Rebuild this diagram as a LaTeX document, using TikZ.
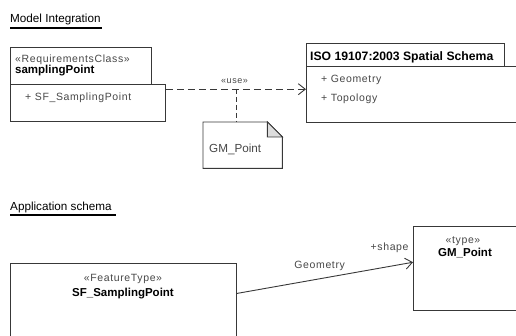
\documentclass[tikz,border=0pt]{standalone}
\usepackage{fontspec}
\setmainfont{Liberation Sans}
\newfontfamily\stfont[LetterSpace=6]{Liberation Sans}
\usetikzlibrary{arrows.meta, positioning}
\definecolor{umlln}{HTML}{383838}
\definecolor{umltx}{HTML}{474747}
\definecolor{umlfold}{HTML}{DDDDDD}

\begin{document}
\begin{tikzpicture}[x=1pt, y=-1pt,
  box/.style={draw=umlln, line width=0.9pt, inner sep=0pt, anchor=north west},
  txt/.style={inner sep=0pt, anchor=base west, text=umltx, font=\stfont\fontsize{10.5}{12}\selectfont},
  bname/.style={inner sep=0pt, anchor=base west, font=\bfseries\fontsize{11.5}{13}\selectfont},
  ttl/.style={inner sep=0pt, anchor=base west, font=\fontsize{11.7}{14}\selectfont},
  uline/.style={line width=1.8pt},
  dep/.style={draw=umlln, line width=0.9pt, dash pattern=on 7pt off 4pt, -{Straight Barb[length=7pt, width=11pt]}},
  assoc/.style={draw=umlln, line width=0.9pt, -{Straight Barb[length=7pt, width=11pt]}}]
\useasboundingbox (0,0) rectangle (516,336);
\clip (0,0) rectangle (516,336);

% model integration
\node[ttl] (tModel) at (10,23) {Model Integration};
\draw[uline] ([yshift=-5pt]tModel.base west) -- ([yshift=-5pt,xshift=1pt]tModel.base east);

\node[box, minimum width=141pt, minimum height=37pt] (spHead) at (10,47) {};
\node[box, minimum width=155pt, minimum height=37pt] (spBody) at (10,84) {};
\node[txt] (spSt) at (15,63) {«RequirementsClass»};
\node[bname] (spName) at (15,74) {samplingPoint};
\node[txt] (spAttr) at (25,101) {+ SF\_SamplingPoint};

\node[box, minimum width=198pt, minimum height=23pt] (isoHead) at (306,43) {};
\node[box, minimum width=230pt, minimum height=56pt] (isoBody) at (306,66) {};
\node[bname, font=\bfseries\fontsize{12.2}{14}\selectfont] (isoName) at (310,61) {ISO 19107:2003 Spatial Schema};
\node[txt] (isoGeom) at (321,83) {+ Geometry};
\node[txt] (isoTopo) at (321,102) {+ Topology};

\draw[dep] (spBody.10) -- (spBody.10 -| isoBody.west)
  node[pos=0.49, above=5pt, inner sep=0pt, text=umltx, font=\stfont\fontsize{9}{10}\selectfont] (useLbl) {«use»};

% note
\node[inner sep=0pt, minimum width=79pt, minimum height=46pt, anchor=north west] (note) at (203,122) {};
\draw[umlln, line width=0.9pt] (note.north west) -- ([xshift=-15pt]note.north east)
  -- ([yshift=-15pt]note.north east) -- (note.south east) -- (note.south west) -- cycle;
\filldraw[draw=umlln, fill=umlfold, line width=0.9pt] ([xshift=-15pt]note.north east)
  -- ([xshift=-15pt,yshift=-15pt]note.north east) -- ([yshift=-15pt]note.north east) -- cycle;
\node[ttl, text=umltx] (noteTxt) at (209,153) {GM\_Point};
\coordinate (useFoot) at (236,89);
\draw[umlln, line width=0.9pt, dash pattern=on 5pt off 3pt] (useFoot) -- (useFoot |- note.north);

% application schema
\node[ttl] (tApp) at (10,211) {Application schema};
\draw[uline] ([yshift=-4pt]tApp.base west) -- ([yshift=-4pt,xshift=4pt]tApp.base east);

\node[box, minimum width=226pt, minimum height=100pt] (ftBox) at (10,263) {};
\node[txt, anchor=base] (ftSt) at (123,282) {«FeatureType»};
\node[bname, anchor=base] (ftName) at (123,296) {SF\_SamplingPoint};

\node[box, minimum width=117pt, minimum height=84pt] (gmBox) at (413,226) {};
\node[txt, anchor=base] (gmSt) at (463,244) {«type»};
\node[bname, anchor=base] (gmName) at (465,257) {GM\_Point};

\draw[assoc] (ftBox.10) -- (gmBox.174)
  node[pos=0.47, above=8pt, inner sep=0pt, text=umltx, font=\stfont\fontsize{10.5}{12}\selectfont] (roleName) {Geometry}
  node[pos=1, above left=9pt and 4pt, inner sep=0pt, text=umltx, font=\stfont\fontsize{10.5}{12}\selectfont] (roleEnd) {+shape};
\end{tikzpicture}
\end{document}
